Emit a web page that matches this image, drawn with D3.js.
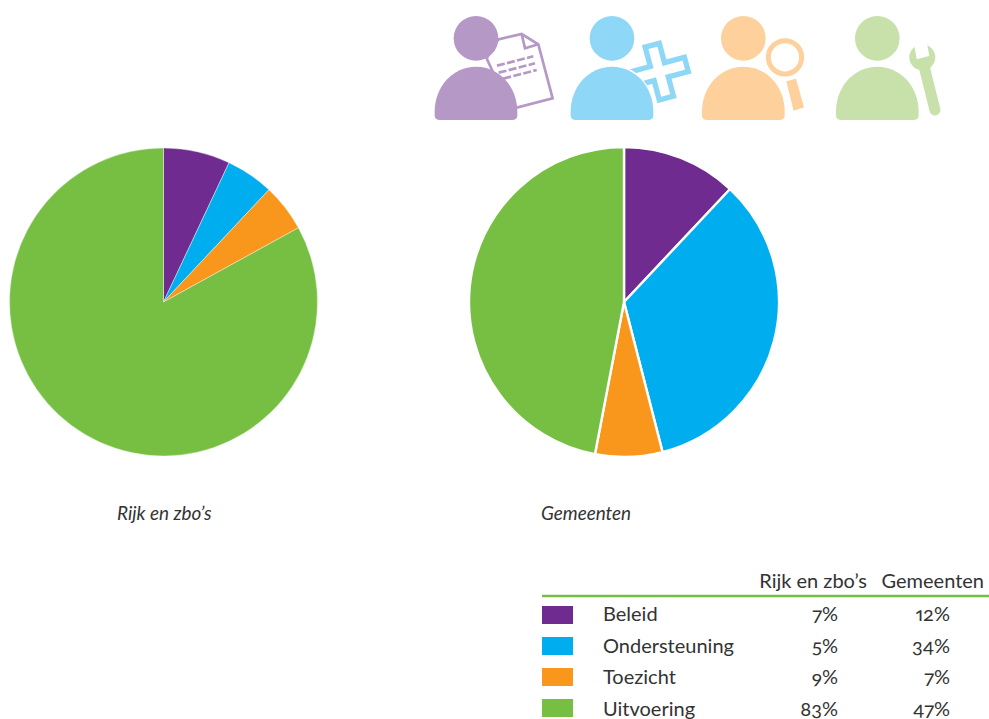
<!DOCTYPE html>
<html><head><meta charset="utf-8">
<script src="https://cdn.jsdelivr.net/npm/d3@7/dist/d3.min.js"></script>
<style>html,body{margin:0;background:#fff}svg{display:block}
text{font-family:Lato,"Open Sans",sans-serif;fill:#333;font-feature-settings:"onum" 1,"pnum" 1;font-variant-numeric:oldstyle-nums}</style>
</head><body><svg id="c" width="989" height="719"></svg>
<script>
const categories=["Beleid","Ondersteuning","Toezicht","Uitvoering"];
const colors=["#6f2b8f","#00aeef","#f9971d","#76bf43"];
const pieRijk=[7,5,5,83];
const pieGemeenten=[12,34,7,47];
const tableRijk=["7%","5%","9%","83%"];
const tableGemeenten=["12%","34%","7%","47%"];
const headers=["Rijk en zbo’s","Gemeenten"];

const svg=d3.select("#c");
const pie=d3.pie().sort(null).value(d=>d);
function drawPie(vals,cx,cy,r,sw){
  const arc=d3.arc().innerRadius(0).outerRadius(r);
  svg.append("g").attr("transform",`translate(${cx},${cy})`)
    .selectAll("path").data(pie(vals)).join("path")
    .attr("d",arc).attr("fill",(d,i)=>colors[i])
    .attr("stroke","#fff").attr("stroke-width",sw).attr("stroke-linejoin","round");
}
drawPie(pieRijk,163.5,302,154,0.4);
drawPie(pieGemeenten,624,302,155,2.4);

svg.append("text").attr("x",117).attr("y",520).attr("font-style","italic").attr("font-size",18.9).text(headers[0]);
svg.append("text").attr("x",541).attr("y",520).attr("font-style","italic").attr("font-size",18.9).text(headers[1]);

// icons, drawn in a 3x local space
function person(g,cx,col,halo){
  g.append("circle").attr("cx",cx).attr("cy",115).attr("r",67).attr("fill",col);
  const L=cx-124,R=cx+124;
  g.append("path").attr("fill",col).attr("stroke",halo?"#fff":"none").attr("stroke-width",halo?8:0).attr("paint-order","stroke")
   .attr("d",`M${L+14},360 Q${L},360 ${L},346 L${L},335 C${L},260 ${cx-70},200 ${cx},200 C${cx+70},200 ${R},260 ${R},335 L${R},346 Q${R},360 ${R-14},360 Z`);
}
const ic1=svg.append("g").attr("transform","translate(420,0) scale(.3333)");
const pu="#b598c6",bl="#8fd7f7",or="#fdd09c",gr="#c8e1ab";
ic1.append("path").attr("fill","#fff").attr("stroke",pu).attr("stroke-width",8).attr("stroke-linejoin","miter")
 .attr("d","M200,175 L235,118 L305,102 L355,133 L398,295 L270,328 Z");
ic1.append("path").attr("fill","none").attr("stroke",pu).attr("stroke-width",8).attr("d","M305,102 L315,145 L355,133");
ic1.append("g").attr("stroke",pu).attr("stroke-width",8).attr("stroke-dasharray","24 7").selectAll("line")
 .data([[231,197,340,169],[236,218,345,190],[250,236,350,210]]).join("line")
 .attr("x1",d=>d[0]).attr("y1",d=>d[1]).attr("x2",d=>d[2]).attr("y2",d=>d[3]);
person(ic1,168,pu,false);
ic1.append("g").attr("transform","translate(718,215) rotate(-15)").append("path")
 .attr("fill","#fff").attr("stroke",bl).attr("stroke-width",16)
 .attr("d","M-22,-82 H22 V-22 H84 V22 H22 V82 H-22 V22 H-84 V-22 H-22 Z");
person(ic1,576,bl,true);
const ic2=svg.append("g").attr("transform","translate(690,0) scale(.3333)");
person(ic2,160,or,false);
ic2.append("circle").attr("cx",285).attr("cy",172).attr("r",50).attr("fill","#fff").attr("stroke",or).attr("stroke-width",15);
ic2.append("path").attr("fill",or).attr("d","M289,244 L318,236 L342,322 L311,332 Z");
person(ic2,562,gr,false);
ic2.append("circle").attr("cx",697).attr("cy",172).attr("r",39).attr("fill",gr);
ic2.append("line").attr("x1",700).attr("y1",190).attr("x2",735).attr("y2",330).attr("stroke",gr).attr("stroke-width",33).attr("stroke-linecap","round");
ic2.append("path").attr("fill","#fff").attr("d","M671,125 L680,178 L718,168 L708,115 Z");

// table
const rowY=d3.scalePoint().domain(categories).range([621,716]);
const swatchY=d3.scalePoint().domain(categories).range([606,699]);
svg.append("line").attr("x1",542).attr("x2",989).attr("y1",596).attr("y2",596).attr("stroke","#76bf43").attr("stroke-width",2.5);
const fs=20;
svg.append("text").attr("x",867).attr("y",588).attr("text-anchor","end").attr("font-size",fs).text(headers[0]);
svg.append("text").attr("x",984).attr("y",588).attr("text-anchor","end").attr("font-size",fs).text(headers[1]);
const rows=svg.append("g").selectAll("g").data(categories).join("g");
rows.append("rect").attr("x",542).attr("width",31).attr("height",18).attr("y",c=>swatchY(c)).attr("fill",(c,i)=>colors[i]);
rows.append("text").attr("x",603).attr("y",c=>rowY(c)).attr("font-size",fs).text(c=>c);
rows.append("text").attr("x",838).attr("y",c=>rowY(c)).attr("font-size",fs).attr("text-anchor","end").text((c,i)=>tableRijk[i]);
rows.append("text").attr("x",950).attr("y",c=>rowY(c)).attr("font-size",fs).attr("text-anchor","end").text((c,i)=>tableGemeenten[i]);
</script></body></html>
